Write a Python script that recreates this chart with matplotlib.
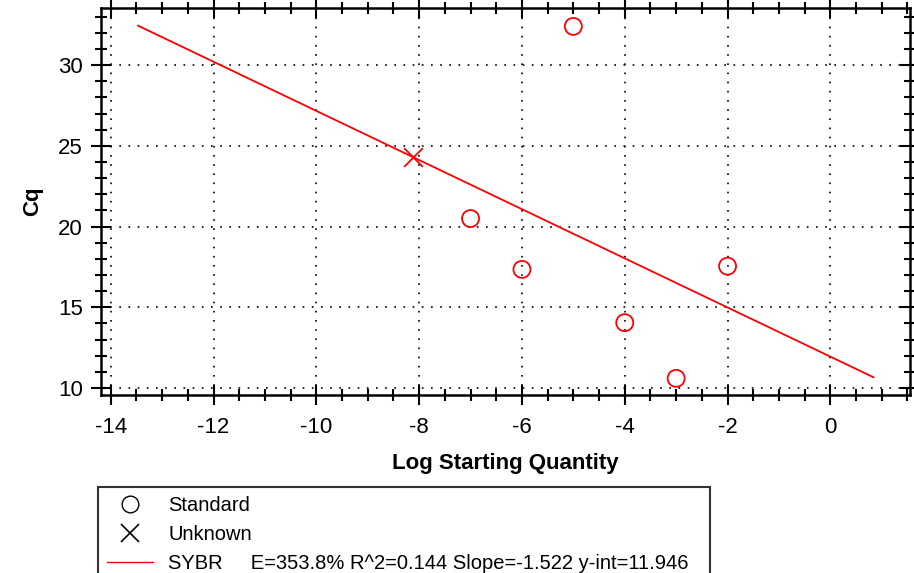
import numpy as np
import matplotlib.pyplot as plt
from matplotlib.lines import Line2D
from matplotlib.ticker import MultipleLocator

plt.rcParams['font.family'] = ['Liberation Sans', 'DejaVu Sans']
plt.rcParams['axes.unicode_minus'] = False

# standards (log starting quantity, Cq)
std_x = [-7, -6, -5, -4, -3, -2]
std_cq = [20.5, 17.35, 32.4, 14.05, 10.6, 17.55]
# unknown sample
unk_x = [-8.12]
unk_cq = [24.3]
# fit
slope = -1.522
yint = 11.946
fit_x = [-13.47, 0.84]
legend_labels = ['Standard', 'Unknown',
                 'SYBR     E=353.8% R^2=0.144 Slope=-1.522 y-int=11.946']

fig = plt.figure(figsize=(9.14, 5.73), dpi=100)
ax = fig.add_axes([101 / 914, 1 - 395 / 573, 809 / 914, 387 / 573])

fx = np.array(fit_x)
ax.plot(fx, slope * fx + yint, color='red', lw=1.3, zorder=3)
ax.scatter(std_x, std_cq, s=150, facecolors='none', edgecolors='red', linewidths=1.3, zorder=4)
ax.scatter(unk_x, unk_cq, s=180, marker='x', color='red', linewidths=1.3, zorder=4)

ax.set_xlim(-14.19, 1.55)
ax.set_ylim(9.57, 33.54)
ax.xaxis.set_major_locator(MultipleLocator(2))
ax.xaxis.set_minor_locator(MultipleLocator(0.5))
ax.yaxis.set_major_locator(MultipleLocator(5))
ax.yaxis.set_minor_locator(MultipleLocator(1))
ax.tick_params(which='both', direction='inout', top=True, right=True, labelsize=16, width=1.5)
ax.tick_params(which='major', length=14, pad=6)
ax.tick_params(which='minor', length=8)
ax.tick_params(axis='x', which='major', pad=9)
ax.grid(True, which='major', color='black', linestyle=(0, (1, 4.5)), lw=1.2)
for s in ax.spines.values():
    s.set_linewidth(1.8)

ax.set_xlabel('Log Starting Quantity', fontsize=16, fontweight='bold', labelpad=11)
ax.set_ylabel('Cq', fontsize=16, fontweight='bold', labelpad=11)

handles = [
    Line2D([], [], marker='o', ls='none', markerfacecolor='none', markeredgecolor='black', markersize=12),
    Line2D([], [], marker='x', ls='none', color='black', markersize=13, markeredgewidth=1.2),
    Line2D([], [], color='red', lw=1),
]
leg = fig.legend(handles, legend_labels, loc='upper left',
                 bbox_to_anchor=(98 / 914, 0, 612 / 914, 1 - 487 / 573), mode='expand',
                 borderaxespad=0, fontsize=14.5, frameon=True, fancybox=False, edgecolor='black',
                 handlelength=2.3, handletextpad=0.75, labelspacing=0.5, borderpad=0.45)
leg.get_frame().set_linewidth(1.5)

fig.savefig('out.png', dpi=100)
